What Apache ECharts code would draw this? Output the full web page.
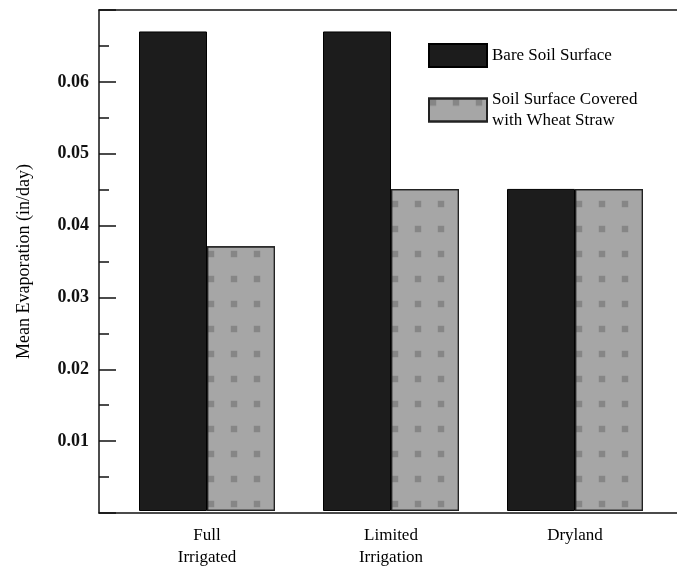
<!DOCTYPE html>
<html>
<head>
<meta charset="utf-8">
<script src="https://cdn.jsdelivr.net/npm/echarts@6/dist/echarts.min.js"></script>
<style>html,body{margin:0;padding:0;background:#fff;}#c{width:677px;height:569px;}</style>
</head>
<body>
<div id="c"></div>
<script>
const categories = ['Full\nIrrigated', 'Limited\nIrrigation', 'Dryland'];
const bareSoil = [0.067, 0.067, 0.045];
const wheatStraw = [0.037, 0.045, 0.045];
const seriesNames = ['Bare Soil Surface', 'Soil Surface Covered\nwith Wheat Straw'];
const yTitle = 'Mean Evaporation (in/day)';

const FONT = '"Liberation Serif", "DejaVu Serif", serif';
const chart = echarts.init(document.getElementById('c'));
chart.setOption({
  backgroundColor: '#fff',
  animation: false,
  legend: {
    orient: 'vertical',
    left: 423, top: 38,
    icon: 'rect',
    itemWidth: 58, itemHeight: 23, itemGap: 21,
    textStyle: { fontFamily: FONT, fontSize: 17, color: '#000', lineHeight: 21 },
    data: seriesNames
  },
  grid: [
    { left: 99, right: 0, top: 10, bottom: 56 },
    { left: 115, width: 552, top: 10, bottom: 56 }
  ],
  xAxis: [
    { gridIndex: 0, type: 'category', data: [''], position: 'bottom',
      axisLine: { lineStyle: { color: '#111', width: 1.5 } }, axisTick: { show: false }, axisLabel: { show: false } },
    { gridIndex: 0, type: 'category', data: [''], position: 'top',
      axisLine: { lineStyle: { color: '#111', width: 1.5 } }, axisTick: { show: false }, axisLabel: { show: false } },
    { gridIndex: 1, type: 'category', data: categories,
      axisLine: { show: false }, axisTick: { show: false },
      axisLabel: { fontFamily: FONT, fontSize: 17, color: '#000', lineHeight: 22, margin: 14 } }
  ],
  yAxis: [
    { gridIndex: 0, type: 'value', min: 0, max: 0.07, interval: 0.01,
      name: yTitle, nameLocation: 'middle', nameGap: 66, nameRotate: 90,
      nameTextStyle: { fontFamily: FONT, fontSize: 18, color: '#000' },
      axisLine: { show: true, lineStyle: { color: '#111', width: 1.5 } },
      axisTick: { show: true, inside: true, length: 17, lineStyle: { color: '#111', width: 1.5 } },
      minorTick: { show: true, splitNumber: 2, length: 10, lineStyle: { color: '#111', width: 1.5 } },
      splitLine: { show: false },
      axisLabel: { fontFamily: FONT, fontSize: 18, fontWeight: 'bold', color: '#111', margin: 10,
        formatter: v => (v > 0.0001 && v < 0.0699) ? v.toFixed(2) : '' } },
    { gridIndex: 1, type: 'value', min: 0, max: 0.07, show: false }
  ],
  series: [
    { name: seriesNames[0], type: 'bar', xAxisIndex: 2, yAxisIndex: 1, data: bareSoil,
      barWidth: 68, barGap: '0%',
      itemStyle: { color: '#1c1c1c', borderColor: '#000', borderWidth: 1 } },
    { name: seriesNames[1], type: 'bar', xAxisIndex: 2, yAxisIndex: 1, data: wheatStraw,
      barWidth: 68, barGap: '0%',
      itemStyle: { color: '#a6a6a6', borderColor: '#222', borderWidth: 1.2,
        decal: { symbol: 'rect', symbolSize: 0.8, color: 'rgba(60,60,60,0.3)',
          dashArrayX: [8, 15], dashArrayY: [8, 17] } } }
  ]
});
</script>
</body>
</html>
